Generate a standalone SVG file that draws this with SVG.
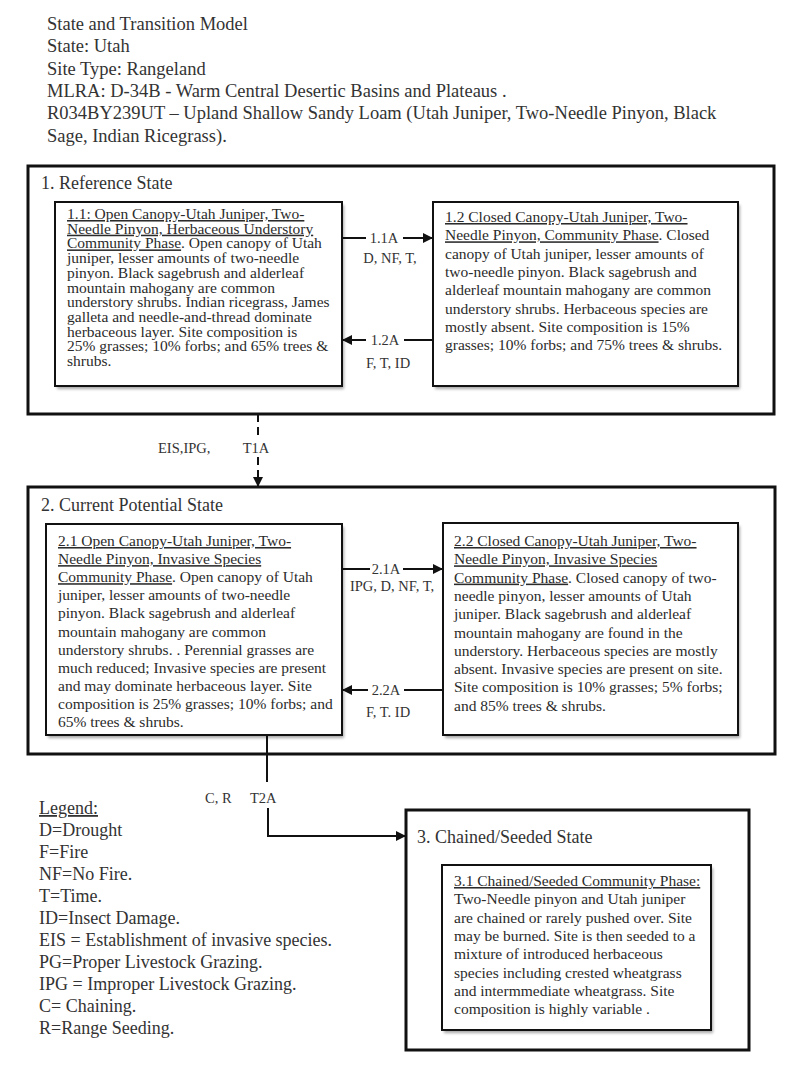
<svg xmlns="http://www.w3.org/2000/svg" width="800" height="1077" viewBox="0 0 800 1077" font-family="'Liberation Serif', Tinos, 'Times New Roman', 'DejaVu Serif', serif">
<style>
text{font-family:"Liberation Serif",Tinos,"Times New Roman","DejaVu Serif",serif;fill:#2b2b2b}
.hd{font-size:18.5px;fill:#333}
.st{font-size:18px;fill:#333}
.bx{font-size:15.5px}
.lb{font-size:14.5px;fill:#333}
.lg{font-size:18px;fill:#333}
.u{text-decoration:underline}
.outer{fill:none;stroke:#111;stroke-width:3}
.inner{fill:#fff;stroke:#111;stroke-width:2}
.sh{fill:#000;opacity:.35;filter:url(#blur)}
.cn{fill:none;stroke:#111;stroke-width:2}
.dash{stroke-dasharray:8 5}
</style>
<defs>
<filter id="blur" x="-5%" y="-5%" width="110%" height="110%"><feGaussianBlur stdDeviation="1.5"/></filter>
<marker id="ah" viewBox="0 0 10 10" refX="10" refY="5" markerWidth="5" markerHeight="5" orient="auto" markerUnits="strokeWidth"><path d="M0,0L10,5L0,10z" fill="#111"/></marker>
</defs>
<rect width="800" height="1077" fill="#fff"/>

<g id="header">
<text class="hd" x="47" y="30">State and Transition Model</text>
<text class="hd" x="47" y="52">State: Utah</text>
<text class="hd" x="47" y="75">Site Type: Rangeland</text>
<text class="hd" x="47" y="97">MLRA: D-34B - Warm Central Desertic Basins and Plateaus .</text>
<text class="hd" x="47" y="119">R034BY239UT – Upland Shallow Sandy Loam (Utah Juniper, Two-Needle Pinyon, Black</text>
<text class="hd" x="47" y="142">Sage, Indian Ricegrass).</text>
</g>

<g id="state1">
<rect class="outer" x="28" y="166" width="746" height="248"/>
<text class="st" x="41" y="189">1. Reference State</text>
</g>

<g id="phase11">
<rect class="sh" x="57" y="205" width="287" height="184"/>
<rect class="inner" x="55" y="202" width="287" height="184"/>
<text class="bx" x="67" y="219"><tspan class="u">1.1: Open Canopy-Utah Juniper, Two-</tspan></text>
<text class="bx" x="67" y="233.7"><tspan class="u">Needle Pinyon, Herbaceous Understory</tspan></text>
<text class="bx" x="67" y="248.4"><tspan class="u">Community Phase</tspan>. Open canopy of  Utah</text>
<text class="bx" x="67" y="263.1">juniper, lesser amounts of two-needle</text>
<text class="bx" x="67" y="277.8">pinyon.  Black sagebrush and alderleaf</text>
<text class="bx" x="67" y="292.5">mountain mahogany are common</text>
<text class="bx" x="67" y="307.2">understory shrubs. Indian ricegrass, James</text>
<text class="bx" x="67" y="321.9">galleta and needle-and-thread dominate</text>
<text class="bx" x="67" y="336.6">herbaceous layer.  Site composition is</text>
<text class="bx" x="67" y="351.3">25% grasses; 10% forbs; and 65% trees &amp;</text>
<text class="bx" x="67" y="366">shrubs.</text>
</g>

<g id="phase12">
<rect class="sh" x="435" y="205" width="305" height="184"/>
<rect class="inner" x="433" y="202" width="305" height="184"/>
<text class="bx" x="445" y="222"><tspan class="u">1.2 Closed Canopy-Utah Juniper, Two-</tspan></text>
<text class="bx" x="445" y="240.3"><tspan class="u">Needle Pinyon,  Community Phase</tspan>. Closed</text>
<text class="bx" x="445" y="258.6">canopy of Utah juniper, lesser amounts of</text>
<text class="bx" x="445" y="276.9">two-needle pinyon.  Black sagebrush and</text>
<text class="bx" x="445" y="295.2">alderleaf mountain mahogany are common</text>
<text class="bx" x="445" y="313.5">understory shrubs. Herbaceous species are</text>
<text class="bx" x="445" y="331.8">mostly absent.  Site composition is 15%</text>
<text class="bx" x="445" y="350.1">grasses; 10% forbs; and 75% trees &amp; shrubs.</text>
</g>

<g id="state2">
<rect class="outer" x="28" y="487" width="747" height="267"/>
<text class="st" x="41" y="511">2. Current Potential State</text>
</g>

<g id="phase21">
<rect class="sh" x="48" y="527" width="296" height="211"/>
<rect class="inner" x="46" y="524" width="296" height="211"/>
<text class="bx" x="58" y="546"><tspan class="u">2.1 Open Canopy-Utah Juniper, Two-</tspan></text>
<text class="bx" x="58" y="564.1"><tspan class="u">Needle Pinyon, Invasive Species</tspan></text>
<text class="bx" x="58" y="582.2"><tspan class="u">Community Phase</tspan>. Open canopy of Utah</text>
<text class="bx" x="58" y="600.3">juniper, lesser amounts of two-needle</text>
<text class="bx" x="58" y="618.4">pinyon.  Black sagebrush and alderleaf</text>
<text class="bx" x="58" y="636.5">mountain mahogany are common</text>
<text class="bx" x="58" y="654.6">understory shrubs. . Perennial grasses are</text>
<text class="bx" x="58" y="672.7">much reduced; Invasive species are present</text>
<text class="bx" x="58" y="690.8">and may dominate herbaceous layer.  Site</text>
<text class="bx" x="58" y="708.9">composition is 25% grasses; 10% forbs; and</text>
<text class="bx" x="58" y="727">65% trees &amp; shrubs.</text>
</g>

<g id="phase22">
<rect class="sh" x="445" y="526" width="295" height="212"/>
<rect class="inner" x="443" y="523" width="295" height="212"/>
<text class="bx" x="454" y="546"><tspan class="u">2.2 Closed Canopy-Utah Juniper, Two-</tspan></text>
<text class="bx" x="454" y="564.3"><tspan class="u">Needle Pinyon, Invasive Species</tspan></text>
<text class="bx" x="454" y="582.6"><tspan class="u">Community Phase</tspan>. Closed canopy of two-</text>
<text class="bx" x="454" y="600.9">needle pinyon, lesser amounts of Utah</text>
<text class="bx" x="454" y="619.2">juniper.  Black sagebrush and alderleaf</text>
<text class="bx" x="454" y="637.5">mountain mahogany are found in the</text>
<text class="bx" x="454" y="655.8">understory. Herbaceous species are mostly</text>
<text class="bx" x="454" y="674.1">absent.  Invasive species are present on site.</text>
<text class="bx" x="454" y="692.4">Site composition is 10% grasses; 5% forbs;</text>
<text class="bx" x="454" y="710.7">and 85% trees &amp; shrubs.</text>
</g>

<g id="state3">
<rect class="outer" x="406" y="810" width="343" height="240"/>
<text class="st" x="417" y="843">3. Chained/Seeded State</text>
</g>

<g id="phase31">
<rect class="sh" x="444" y="868" width="269" height="165"/>
<rect class="inner" x="442" y="865" width="269" height="165"/>
<text class="bx" x="454" y="886"><tspan class="u">3.1 Chained/Seeded Community Phase:</tspan></text>
<text class="bx" x="454" y="904.3">Two-Needle pinyon and Utah juniper</text>
<text class="bx" x="454" y="922.6">are chained or rarely pushed over. Site</text>
<text class="bx" x="454" y="940.9">may be burned.  Site is then seeded to a</text>
<text class="bx" x="454" y="959.2">mixture of introduced herbaceous</text>
<text class="bx" x="454" y="977.5">species including  crested wheatgrass</text>
<text class="bx" x="454" y="995.8">and intermmediate wheatgrass. Site</text>
<text class="bx" x="454" y="1014.1">composition is highly  variable .</text>
</g>

<g id="connectors">
<path class="cn" d="M342,238H366"/>
<path class="cn" d="M403,238H433" marker-end="url(#ah)"/>
<text class="lb" x="384" y="243" text-anchor="middle">1.1A</text>
<text class="lb" x="390" y="263" text-anchor="middle">D, NF, T,</text>
<path class="cn" d="M433,340H404"/>
<path class="cn" d="M366,340H342" marker-end="url(#ah)"/>
<text class="lb" x="385" y="345" text-anchor="middle">1.2A</text>
<text class="lb" x="388" y="368" text-anchor="middle">F, T, ID</text>

<path class="cn dash" d="M258,414V438"/>
<path class="cn dash" d="M258,457V487" marker-end="url(#ah)"/>
<text class="lb" x="158" y="453">EIS,IPG,</text>
<text class="lb" x="256" y="453" text-anchor="middle">T1A</text>

<path class="cn" d="M342,569H370"/>
<path class="cn" d="M403,569H443" marker-end="url(#ah)"/>
<text class="lb" x="386" y="574" text-anchor="middle">2.1A</text>
<text class="lb" x="392" y="591" text-anchor="middle">IPG, D, NF, T,</text>
<path class="cn" d="M443,690H404"/>
<path class="cn" d="M368,690H342" marker-end="url(#ah)"/>
<text class="lb" x="386" y="695" text-anchor="middle">2.2A</text>
<text class="lb" x="388" y="717" text-anchor="middle">F, T. ID</text>

<path class="cn" d="M267,735V782"/>
<path class="cn" d="M268,808V836H406" marker-end="url(#ah)"/>
<text class="lb" x="205" y="803">C, R</text>
<text class="lb" x="250" y="803">T2A</text>
</g>

<g id="legend">
<text class="lg" x="39" y="814"><tspan class="u">Legend:</tspan></text>
<text class="lg" x="39" y="836">D=Drought</text>
<text class="lg" x="39" y="858">F=Fire</text>
<text class="lg" x="39" y="880">NF=No Fire.</text>
<text class="lg" x="39" y="902">T=Time.</text>
<text class="lg" x="39" y="924">ID=Insect Damage.</text>
<text class="lg" x="39" y="946">EIS = Establishment of invasive species.</text>
<text class="lg" x="39" y="968">PG=Proper Livestock Grazing.</text>
<text class="lg" x="39" y="990">IPG = Improper Livestock Grazing.</text>
<text class="lg" x="39" y="1012">C= Chaining.</text>
<text class="lg" x="39" y="1034">R=Range Seeding.</text>
</g>
</svg>
